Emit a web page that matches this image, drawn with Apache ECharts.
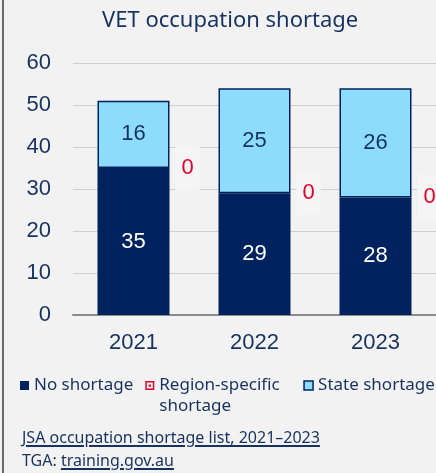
<!DOCTYPE html>
<html>
<head>
<meta charset="utf-8">
<script src="https://cdn.jsdelivr.net/npm/echarts@6/dist/echarts.min.js"></script>
<style>
  html, body { margin: 0; padding: 0; background: #f2f2f2; }
  #wrap { position: relative; width: 436px; height: 473px; overflow: hidden; }
  #wrap:before { content: ''; position: absolute; left: 2px; top: 0; bottom: 0; width: 2px; background: #6b6b6b; z-index: 2; }
  #chart { position: absolute; left: 0; top: 0; width: 436px; height: 473px; }
  .src { position: absolute; left: 22px; font-family: 'Noto Sans', sans-serif; font-size: 16px; color: #17325f; white-space: nowrap; }
  .src u { text-decoration-thickness: 2px; text-underline-offset: 2px; }
</style>
</head>
<body>
<div id="wrap">
  <div id="chart"></div>
  <div class="src" style="top:426px;"><u>JSA occupation shortage list, 2021–2023</u></div>
  <div class="src" style="top:449px;">TGA: <u>training.gov.au</u></div>
</div>
<script>
const years = ['2021', '2022', '2023']
const noShortage = [35, 29, 28]
const regionShortage = [0, 0, 0]
const stateShortage = [16, 25, 26]

const navy = '#00225e'
const textNavy = '#17325f'
const lightBlue = '#8edcfc'
const red = '#e4002b'

const chart = echarts.init(document.getElementById('chart'))

// the blank first line keeps "Region-specific" level with its marker
function legendName(name) {
  if (name === 'Region-specific shortage') return ' \nRegion-specific\nshortage'
  return name
}

const option = {
  backgroundColor: 'transparent',
  animation: false,
  title: {
    text: 'VET occupation shortage',
    left: 97,
    top: 5,
    textStyle: { fontFamily: 'Noto Sans', fontSize: 22, fontWeight: 'normal', color: textNavy }
  },
  grid: { left: 73, right: 0, top: 63, bottom: 158 },
  legend: {
    left: 20,
    top: 354,
    padding: 0,
    itemWidth: 9,
    itemHeight: 9,
    itemGap: 12,
    icon: 'rect',
    textStyle: { fontFamily: 'Noto Sans', fontSize: 17, color: textNavy, lineHeight: 21 },
    formatter: legendName,
    data: [
      { name: 'No shortage', itemStyle: { color: navy, borderWidth: 0 } },
      {
        name: 'Region-specific shortage',
        icon: 'path://M0,0H8V8H0Z M1.3,1.3V6.7H6.7V1.3Z M3,3H5V5H3Z',
        itemStyle: { color: red, borderWidth: 0 },
        textStyle: { width: 132 }
      },
      { name: 'State shortage', itemStyle: { color: lightBlue, borderColor: navy, borderWidth: 1.5 } }
    ]
  },
  xAxis: {
    type: 'category',
    data: years,
    axisTick: { show: false },
    axisLine: { lineStyle: { color: '#8c8c8c', width: 2 } },
    axisLabel: { fontFamily: 'Liberation Sans', fontSize: 22, color: textNavy, margin: 17 }
  },
  yAxis: {
    type: 'value',
    min: 0,
    max: 60,
    interval: 10,
    axisLine: { show: false },
    axisTick: { show: false },
    axisLabel: { fontFamily: 'Liberation Sans', fontSize: 22, color: textNavy, margin: 22 },
    splitLine: { lineStyle: { color: '#cfcfcf', width: 1 } }
  },
  series: [
    {
      name: 'No shortage',
      type: 'bar',
      stack: 'total',
      barWidth: 72,
      data: noShortage,
      itemStyle: { color: navy, borderColor: navy, borderWidth: 1.5 },
      label: { show: true, position: 'inside', color: '#ffffff', fontFamily: 'Liberation Sans', fontSize: 22 }
    },
    {
      name: 'Region-specific shortage',
      type: 'bar',
      stack: 'total',
      data: regionShortage,
      itemStyle: { color: red, borderWidth: 0 },
      label: {
        show: true,
        position: 'right',
        distance: 6,
        color: red,
        fontFamily: 'Liberation Sans',
        fontSize: 22,
        backgroundColor: '#f5f5f5',
        padding: [14, 6, 8, 6]
      }
    },
    {
      name: 'State shortage',
      type: 'bar',
      stack: 'total',
      data: stateShortage,
      itemStyle: { color: lightBlue, borderColor: navy, borderWidth: 1.5 },
      label: { show: true, position: 'inside', color: textNavy, fontFamily: 'Liberation Sans', fontSize: 22 }
    }
  ]
}

chart.setOption(option)
</script>
</body>
</html>
